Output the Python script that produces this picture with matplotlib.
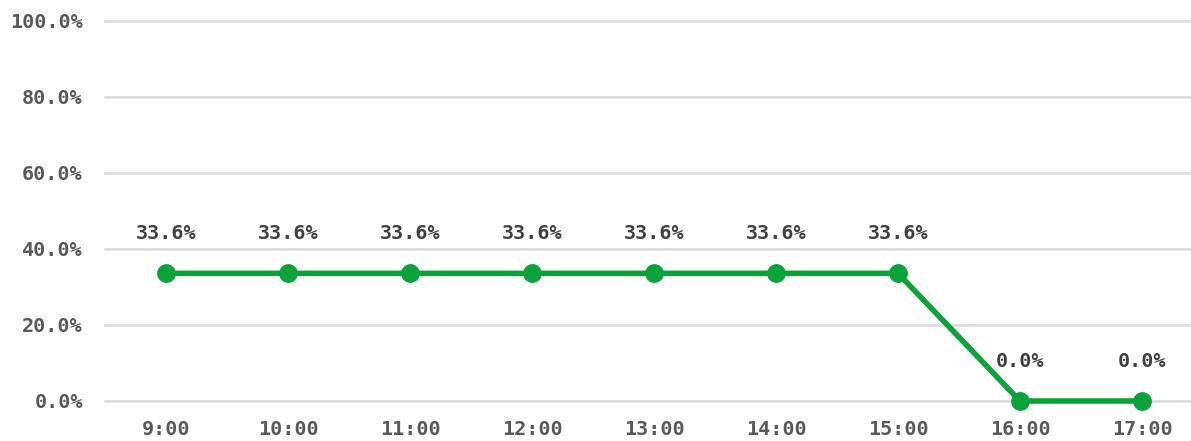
import matplotlib
matplotlib.use("Agg")
import matplotlib.pyplot as plt
from matplotlib.ticker import FuncFormatter

categories = ["9:00", "10:00", "11:00", "12:00", "13:00", "14:00", "15:00", "16:00", "17:00"]
values = [0.336, 0.336, 0.336, 0.336, 0.336, 0.336, 0.336, 0.0, 0.0]
yticks = [0.0, 0.2, 0.4, 0.6, 0.8, 1.0]

W, H = 1191, 441
fig = plt.figure(figsize=(W / 100, H / 100), dpi=100)
left, right = 105 / W, 1.0
bottom, top = (H - 401) / H, (H - 21) / H
ax = fig.add_axes([left, bottom, right - left, top - bottom])

font = "DejaVu Sans Mono"
x = list(range(len(categories)))
ax.plot(x, values, color="#0aa33a", lw=4.0, marker="o", ms=12.5, zorder=3, clip_on=False)
for xi, v in zip(x, values):
    ax.annotate(f"{v*100:.1f}%", (xi, v), xytext=(0, 28.5), textcoords="offset points",
                ha="center", va="center", fontsize=14.5, fontweight="bold",
                color="#404040", family=font)

ax.set_xlim(-0.5, (W - 166) / 122.0)
ax.set_ylim(0, 1.0)
ax.set_yticks(yticks)
ax.yaxis.set_major_formatter(FuncFormatter(lambda v, p: f"{v*100:.1f}%"))
ax.set_xticks(x)
ax.set_xticklabels(categories)
for lab in ax.get_xticklabels() + ax.get_yticklabels():
    lab.set_family(font)
    lab.set_fontweight("bold")
    lab.set_fontsize(14.5)
    lab.set_color("#595959")
ax.tick_params(axis="both", length=0)
ax.tick_params(axis="y", pad=16)
ax.tick_params(axis="x", pad=14)
ax.grid(axis="y", color="#d9d9d9", lw=1.8)
for gl in ax.get_ygridlines():
    gl.set_clip_on(False)
ax.set_axisbelow(True)
for s in ax.spines.values():
    s.set_visible(False)

fig.savefig("out.png", dpi=100)
